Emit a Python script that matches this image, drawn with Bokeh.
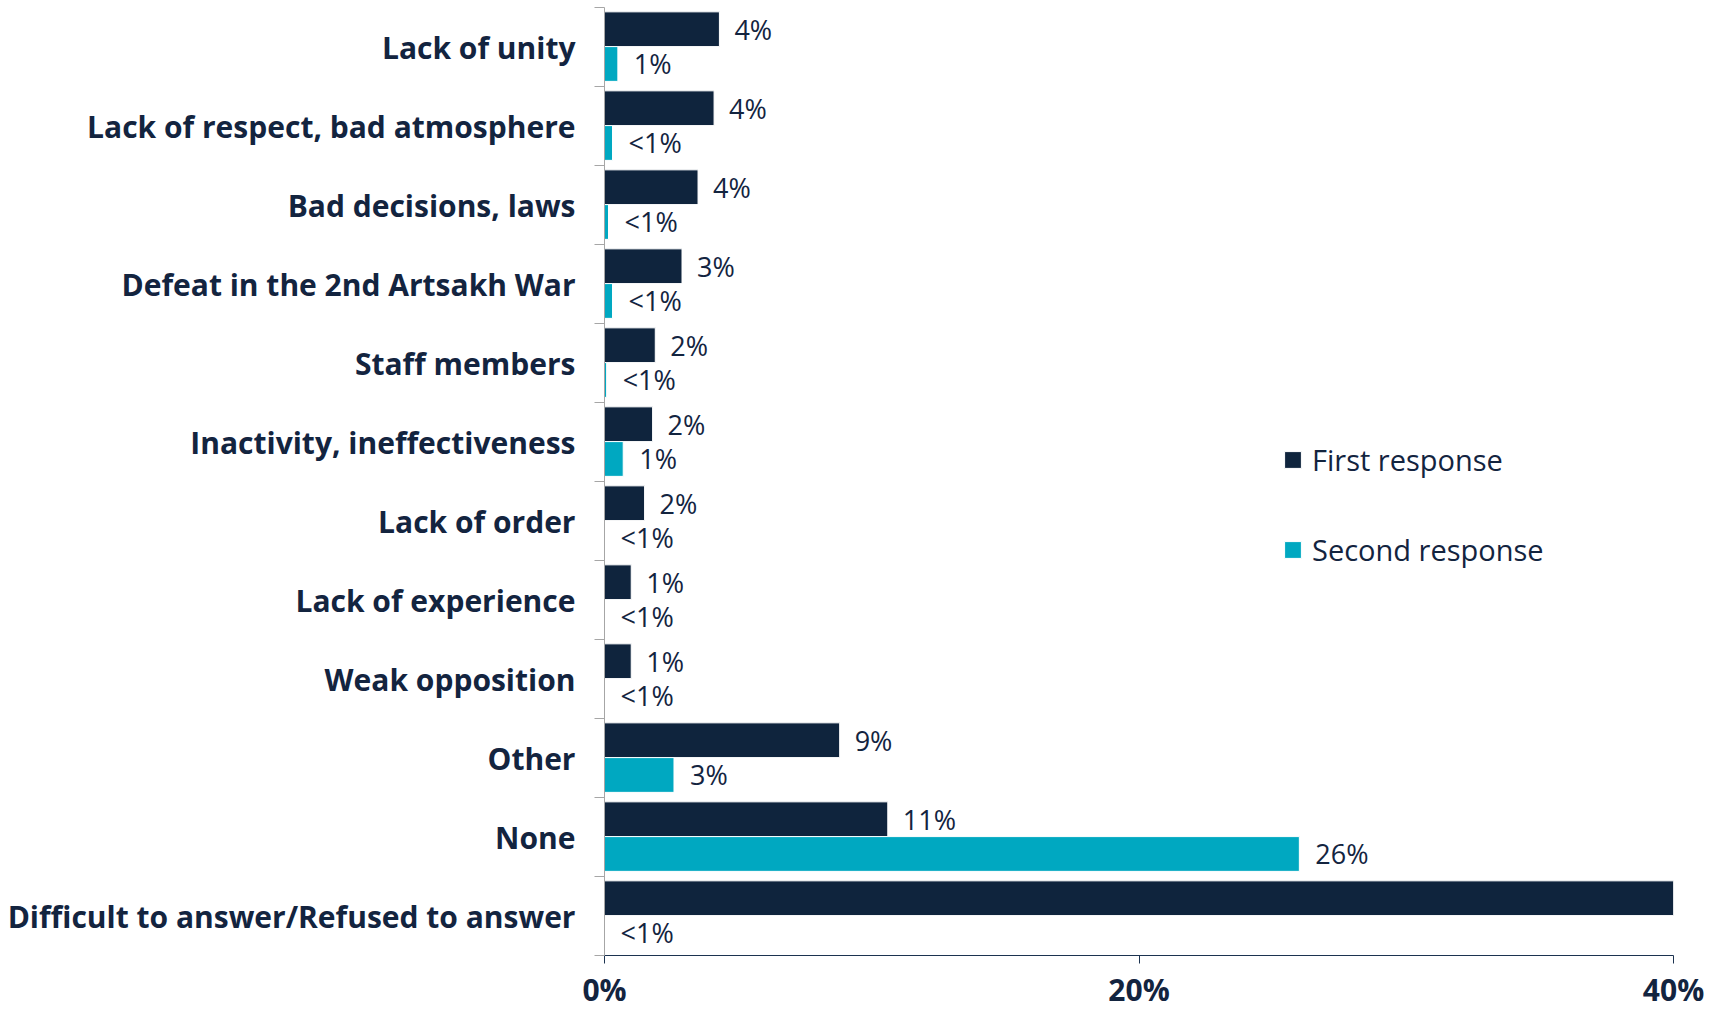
import numpy as np
from bokeh.plotting import figure
from bokeh.models import (Range1d, LinearAxis, FixedTicker, Legend, LegendItem,
                          ColumnDataSource, PrintfTickFormatter, CDSView, BooleanFilter)
from bokeh.transform import dodge
from bokeh.core.properties import value
from bokeh.embed import file_html
from bokeh.resources import INLINE

categories = [
    "Lack of unity",
    "Lack of respect, bad atmosphere",
    "Bad decisions, laws",
    "Defeat in the 2nd Artsakh War",
    "Staff members",
    "Inactivity, ineffectiveness",
    "Lack of order",
    "Lack of experience",
    "Weak opposition",
    "Other",
    "None",
    "Difficult to answer/Refused to answer",
]
first_response = [4.3, 4.1, 3.5, 2.9, 1.9, 1.8, 1.5, 1.0, 1.0, 8.8, 10.6, 40.0]
second_response = [0.5, 0.3, 0.15, 0.3, 0.08, 0.7, 0.0, 0.0, 0.0, 2.6, 26.0, 0.0]
first_labels = ["4%", "4%", "4%", "3%", "2%", "2%", "2%", "1%", "1%", "9%", "11%", ""]
second_labels = ["1%", "<1%", "<1%", "<1%", "<1%", "1%", "<1%", "<1%", "<1%", "3%", "26%", "<1%"]
x_ticks = [0, 20, 40]

DARK = "#0F243D"
TEAL = "#00A8C1"
TEXT = "#13243F"
FONT = "Open Sans"

n = len(categories)
pos = (n - 1 - np.arange(n)) + 0.5   # category centres, first category on top
bounds = list(range(n + 1))

src = ColumnDataSource(dict(pos=pos, first=first_response, second=second_response,
                            fl=first_labels, sl=second_labels))

p = figure(y_range=Range1d(0, n), x_range=Range1d(0, 40),
           frame_width=1069, frame_height=948,
           min_border_left=604, min_border_right=47, min_border_top=7, min_border_bottom=54,
           output_backend="svg", toolbar_location=None, y_axis_location=None)
p.outline_line_color = None
p.xgrid.grid_line_color = None
p.ygrid.grid_line_color = None

r1 = p.hbar(y=dodge("pos", 0.225), left=0, right="first", height=0.44,
            source=src, fill_color=DARK, line_color="white", line_width=1)
r2 = p.hbar(y=dodge("pos", -0.215), left=0, right="second", height=0.44,
            source=src, fill_color=TEAL, line_color="white", line_width=1)

shown = CDSView(filter=BooleanFilter([lbl != "" for lbl in first_labels]))
p.text(x="first", y=dodge("pos", 0.225), text="fl", source=src, view=shown,
       x_offset=15, text_baseline="middle", text_align="left",
       text_font=value(FONT), text_font_size="27px", text_color=TEXT)
p.text(x="second", y=dodge("pos", -0.215), text="sl", source=src,
       x_offset=16, text_baseline="middle", text_align="left",
       text_font=value(FONT), text_font_size="27px", text_color=TEXT)

# x axis
xa = p.xaxis[0]
xa.ticker = FixedTicker(ticks=x_ticks)
xa.formatter = PrintfTickFormatter(format="%d%%")
xa.axis_line_color = "#1C3350"
xa.major_tick_line_color = "#1C3350"
xa.major_tick_out = 8
xa.major_tick_in = 0
xa.minor_tick_line_color = None
xa.major_label_standoff = 5
xa.major_label_text_font = FONT
xa.major_label_text_font_style = "bold"
xa.major_label_text_font_size = "30px"
xa.major_label_text_color = TEXT

# y axis: labels at category centres, ticks at category boundaries (minor ticks)
ya = LinearAxis(ticker=FixedTicker(ticks=list(pos), minor_ticks=bounds),
                major_label_overrides={float(v): c for v, c in zip(pos, categories)},
                axis_line_color="#A6A6A6", major_tick_line_color=None,
                major_tick_out=0, major_tick_in=0,
                minor_tick_line_color="#A6A6A6", minor_tick_out=10, minor_tick_in=0,
                major_label_standoff=19, major_label_text_font=FONT,
                major_label_text_font_style="bold", major_label_text_font_size="30px",
                major_label_text_color=TEXT)
p.add_layout(ya, "left")

legend = Legend(items=[LegendItem(label="First response", renderers=[r1]),
                       LegendItem(label="Second response", renderers=[r2])],
                location=(678, 385), glyph_width=21, glyph_height=21, label_height=42,
                spacing=48, padding=0, margin=0, label_standoff=9,
                label_text_font=FONT, label_text_font_size="29px", label_text_color=TEXT,
                border_line_color=None, background_fill_alpha=0)
p.add_layout(legend, "center")

open("out.html", "w").write(file_html(p, INLINE))
